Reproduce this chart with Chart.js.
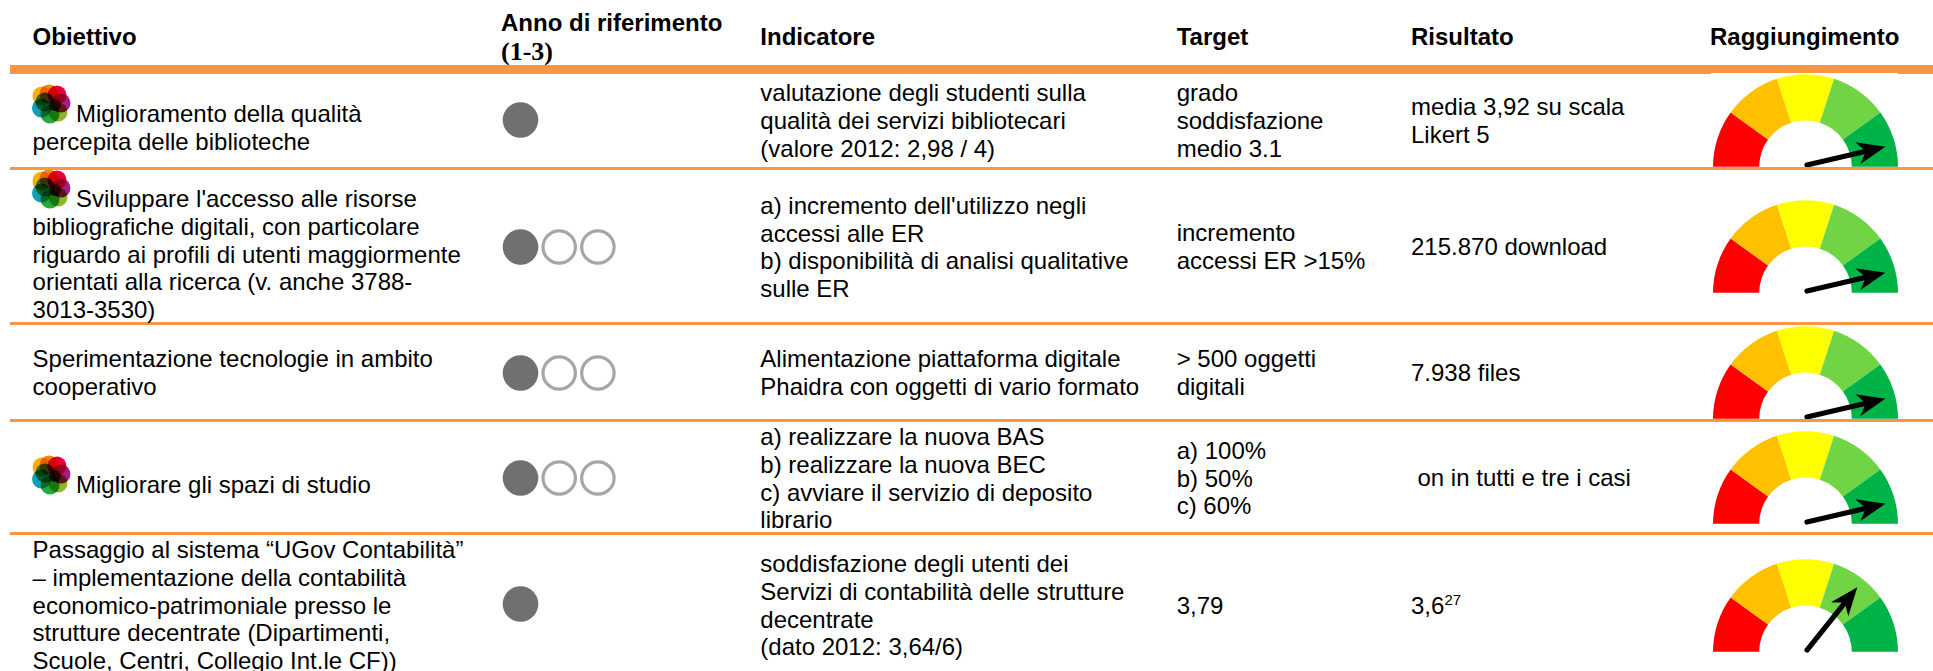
<!DOCTYPE html>
<html lang="it"><head><meta charset="utf-8">
<script src="https://cdn.jsdelivr.net/npm/chart.js@4"></script>
<style>
html,body{margin:0;padding:0;background:#fff;width:1933px;height:671px;overflow:hidden}
#page{position:relative;width:1933px;height:671px;font-family:"Liberation Sans",Arial,sans-serif;color:#000}
.t{position:absolute;white-space:pre;font-size:24px;line-height:28px;height:28px;z-index:3}
.h{font-weight:bold}
.s{font-family:"Liberation Serif",serif;font-weight:bold;font-size:26px}
sup{font-size:15px;line-height:0;vertical-align:9px}
.rule{position:absolute;left:10px;right:0;background:#F79646;z-index:2}
.g{position:absolute;z-index:1}
.dots{position:absolute;z-index:1}
svg.icon{position:absolute;z-index:3;isolation:isolate}
svg.icon circle{mix-blend-mode:multiply}
</style></head><body><div id="page"></div>
<script>
/* ---------- data ---------- */
const headers = ["Obiettivo", "Anno di riferimento", "Indicatore", "Target", "Risultato", "Raggiungimento"];
const headerSub = "(1-3)";
const obiettivi = [
  ["Miglioramento della qualità", "percepita delle biblioteche"],
  ["Sviluppare l'accesso alle risorse", "bibliografiche digitali, con particolare", "riguardo ai profili di utenti maggiormente", "orientati alla ricerca (v. anche 3788-", "3013-3530)"],
  ["Sperimentazione tecnologie in ambito", "cooperativo"],
  ["Migliorare gli spazi di studio"],
  ["Passaggio al sistema “UGov Contabilità”", "– implementazione della contabilità", "economico-patrimoniale presso le", "strutture decentrate (Dipartimenti,", "Scuole, Centri, Collegio Int.le CF))"]
];
const indicatori = [
  ["valutazione degli studenti sulla", "qualità dei servizi bibliotecari", "(valore 2012: 2,98 / 4)"],
  ["a) incremento dell'utilizzo negli", "accessi alle ER", "b) disponibilità di analisi qualitative", "sulle ER"],
  ["Alimentazione piattaforma digitale", "Phaidra con oggetti di vario formato"],
  ["a) realizzare la nuova BAS", "b) realizzare la nuova BEC", "c) avviare il servizio di deposito", "librario"],
  ["soddisfazione degli utenti dei", "Servizi di contabilità delle strutture", "decentrate", "(dato 2012: 3,64/6)"]
];
const targets = [
  ["grado", "soddisfazione", "medio 3.1"],
  ["incremento", "accessi ER >15%"],
  ["> 500 oggetti", "digitali"],
  ["a) 100%", "b) 50%", "c) 60%"],
  ["3,79"]
];
const risultati = [
  ["media 3,92 su scala", "Likert 5"],
  ["215.870 download"],
  ["7.938 files"],
  ["on in tutti e tre i casi"],
  ["3,6<sup>27</sup>"]
];
const hasIcon = [true, true, false, true, false];
const anniTotali = [1, 3, 3, 3, 1];
const anniRaggiunti = [1, 1, 1, 1, 1];
const gaugeBands = [20, 20, 20, 20, 20];
const gaugeValues = [92.7, 92.7, 92.7, 92.7, 71.5];

/* ---------- layout ---------- */
const page = document.getElementById('page');
const LINE = 27.67, ASC = 21.3;
const colX = [32.6, 501, 760.3, 1176.7, 1411, 1710];
const ruleBoxes = [[65, 9], [167, 3], [322, 3], [419, 3], [532, 3]];
const firstBase = {
  obj: [121.7, 206.7, 366.7, 492.7, 557.7],
  ind: [100.7, 213.3, 366.7, 444.7, 571.7],
  tar: [100.7, 240.7, 366.7, 458.3, 613.3],
  ris: [114.7, 254.7, 380.7, 485.7, 613.3]
};
const risX = [1411, 1411, 1411, 1417.5, 1411];
const iconTop = [85, 170, 0, 456, 0];
const dotY = [120, 246.7, 373.3, 478.3, 604.3];
const gaugeBase = [167, 293.3, 419.3, 524.3, 651.7];

function text(x, base, html, cls) {
  const d = document.createElement('div');
  d.className = 't ' + (cls || '');
  d.style.left = x + 'px';
  d.style.top = (base - ASC) + 'px';
  d.innerHTML = html;
  page.appendChild(d);
}
function cell(x, base, lines, firstX) {
  lines.forEach((l, i) => text(i === 0 && firstX ? firstX : x, base + i * LINE, l));
}
ruleBoxes.forEach(([y, h]) => {
  const d = document.createElement('div');
  d.className = 'rule'; d.style.top = y + 'px'; d.style.height = h + 'px';
  page.appendChild(d);
});
const strip = document.createElement('div');
strip.style.cssText = 'position:absolute;left:1711px;width:187px;top:73px;height:1px;background:#fff;z-index:2';
page.appendChild(strip);

headers.forEach((h, i) => text(colX[i], i === 1 ? 30.7 : 44.3, h, 'h'));
text(colX[1], 59, headerSub, 's');

obiettivi.forEach((lines, r) => {
  cell(colX[0], firstBase.obj[r], lines, hasIcon[r] ? 76 : null);
  cell(colX[2], firstBase.ind[r], indicatori[r]);
  cell(colX[3], firstBase.tar[r], targets[r]);
  cell(risX[r], firstBase.ris[r], risultati[r]);
});

/* flower logo */
const petals = [["#F9B000", -9, -8], ["#F08A00", -2, -10], ["#E6003C", 6, -9], ["#A51E85", 10, -1],
  ["#8FB32A", 7, 8], ["#27A83C", -1, 10], ["#0FA0B5", -9.5, 4], ["#3E8E5A", -6, -2], ["#6B3A2E", 4, 1]];
hasIcon.forEach((on, r) => {
  if (!on) return;
  const ns = 'http://www.w3.org/2000/svg';
  const s = document.createElementNS(ns, 'svg');
  s.setAttribute('class', 'icon');
  s.setAttribute('width', 40); s.setAttribute('height', 40);
  s.setAttribute('viewBox', '-20 -20 40 40');
  s.style.left = '31px'; s.style.top = (iconTop[r] - 1) + 'px';
  petals.forEach(([c, x, y]) => {
    const e = document.createElementNS(ns, 'circle');
    e.setAttribute('cx', x); e.setAttribute('cy', y); e.setAttribute('r', c === "#6B3A2E" ? 6 : 9.5); e.setAttribute('fill', c);
    s.appendChild(e);
  });
  page.appendChild(s);
});

/* year dots: scatter chart per row */
function canvasAt(cls, l, t, w, h) {
  const c = document.createElement('canvas');
  c.className = cls; c.width = w; c.height = h;
  c.style.cssText = `left:${l}px;top:${t}px;width:${w}px;height:${h}px`;
  page.appendChild(c);
  return c;
}
anniTotali.forEach((n, r) => {
  const pts = Array.from({length: n}, (_, i) => ({x: i + 1, y: 0}));
  const filled = i => i < anniRaggiunti[r];
  new Chart(canvasAt('dots', 500, dotY[r] - 20, 118, 40), {
    type: 'scatter',
    data: {datasets: [{
      data: pts,
      clip: false,
      pointRadius: pts.map((_, i) => filled(i) ? 17.8 : 16.2),
      pointBorderWidth: pts.map((_, i) => filled(i) ? 0 : 3.2),
      pointBackgroundColor: pts.map((_, i) => filled(i) ? '#707072' : '#FFFFFF'),
      pointBorderColor: '#A6A6A8'
    }]},
    options: {
      responsive: false, animation: false, events: [],
      layout: {padding: 0, autoPadding: false},
      plugins: {legend: {display: false}, tooltip: {enabled: false}},
      scales: {
        x: {type: 'linear', min: 0.47, max: 3.52, display: false},
        y: {min: -1, max: 1, display: false}
      }
    }
  });
});

/* gauges: half doughnut + needle from the value */
const needlePlugin = {
  id: 'needle',
  afterDatasetsDraw(chart, args, opts) {
    const arc = chart.getDatasetMeta(0).data[0];
    const ctx = chart.ctx;
    const ang = Math.PI * (1 - opts.value / 100);
    const R = arc.outerRadius;
    const ux = Math.cos(ang), uy = -Math.sin(ang), nx = -uy, ny = ux;
    const x0 = arc.x + 1.5, y0 = arc.y - 1.7;
    const L = R * 0.87;
    const tip = [x0 + ux * L, y0 + uy * L];
    const P = (a, b) => [tip[0] + ux * a + nx * b, tip[1] + uy * a + ny * b];
    ctx.save();
    ctx.strokeStyle = '#000'; ctx.fillStyle = '#000';
    ctx.lineWidth = 5.2; ctx.lineCap = 'round';
    ctx.beginPath(); ctx.moveTo(x0, y0);
    const e = P(-22, 0); ctx.lineTo(e[0], e[1]); ctx.stroke();
    ctx.beginPath();
    [P(0, 0), P(-28.2, 11.1), P(-20, 0), P(-28.2, -11.1)].forEach((p, i) => i ? ctx.lineTo(p[0], p[1]) : ctx.moveTo(p[0], p[1]));
    ctx.closePath(); ctx.fill();
    ctx.restore();
  }
};
gaugeValues.forEach((v, r) => {
  const W = 185, H = 96;
  new Chart(canvasAt('g', 1805 - W / 2, gaugeBase[r] - 93, W, H), {
    type: 'doughnut',
    data: {datasets: [{
      data: gaugeBands,
      backgroundColor: ['#FF0000', '#FFC000', '#FFFF00', '#70D444', '#00B347'],
      borderWidth: 0
    }]},
    options: {
      responsive: false, animation: false, events: [],
      rotation: -90, circumference: 180, cutout: '50%',
      layout: {padding: {bottom: 3}},
      plugins: {legend: {display: false}, tooltip: {enabled: false}, needle: {value: v}}
    },
    plugins: [needlePlugin]
  });
});
</script></body></html>
